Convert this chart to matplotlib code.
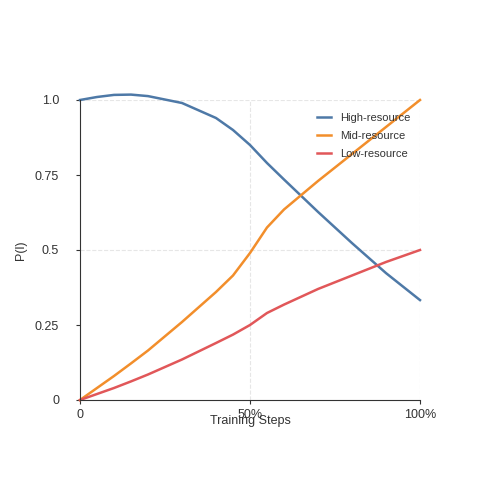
import matplotlib
matplotlib.use("Agg")
import matplotlib.pyplot as plt

plt.rcParams['font.family'] = ['Liberation Sans', 'DejaVu Sans']

steps = [0, 0.05, 0.1, 0.15, 0.2, 0.3, 0.4, 0.45, 0.5, 0.55, 0.6, 0.7, 0.8, 0.9, 1.0]
high = [1.0, 1.01, 1.017, 1.018, 1.013, 0.99, 0.94, 0.90, 0.85, 0.79, 0.735, 0.627, 0.523, 0.423, 0.333]
mid = [0.0, 0.04, 0.08, 0.122, 0.165, 0.26, 0.36, 0.415, 0.49, 0.575, 0.635, 0.73, 0.82, 0.91, 1.0]
low = [0.0, 0.02, 0.04, 0.062, 0.085, 0.135, 0.19, 0.218, 0.25, 0.29, 0.318, 0.37, 0.415, 0.46, 0.5]

fig = plt.figure(figsize=(5, 5), dpi=100)
ax = fig.add_axes([0.16, 0.2, 0.68, 0.6])

for x in [0.5, 1.0]:
    ax.axvline(x, color="#e6e6e6", ls="--", lw=0.8, zorder=0)
for y in [0.5, 1.0]:
    ax.axhline(y, color="#e6e6e6", ls="--", lw=0.8, zorder=0)

ax.plot(steps, high, color="#4e79a7", lw=1.8, label="High-resource", clip_on=False)
ax.plot(steps, mid, color="#f28e2b", lw=1.8, label="Mid-resource", clip_on=False)
ax.plot(steps, low, color="#e15759", lw=1.8, label="Low-resource", clip_on=False)

ax.set_xlim(0, 1)
ax.set_ylim(0, 1)
ax.set_xticks([0, 0.5, 1.0])
ax.set_xticklabels(["0", "50%", "100%"])
ax.set_yticks([0, 0.25, 0.5, 0.75, 1.0])
ax.set_yticklabels(["0", "0.25", "0.5", "0.75", "1.0"])
for s in ["top", "right"]:
    ax.spines[s].set_visible(False)
ax.spines["left"].set_color("#333333")
ax.spines["bottom"].set_color("#333333")
ax.tick_params(colors="#333333", labelsize=9, length=3)
ax.tick_params(axis="y", pad=12)
ax.set_xlabel("Training Steps", fontsize=9, color="#333333", labelpad=-4)
ax.set_ylabel("P(l)", fontsize=9, color="#333333", labelpad=6)

ax.legend(loc="upper right", bbox_to_anchor=(1.0, 0.99), frameon=False,
          fontsize=8, handlelength=1.2, labelspacing=0.7, labelcolor="#333333")

fig.savefig("out.png", dpi=100)
